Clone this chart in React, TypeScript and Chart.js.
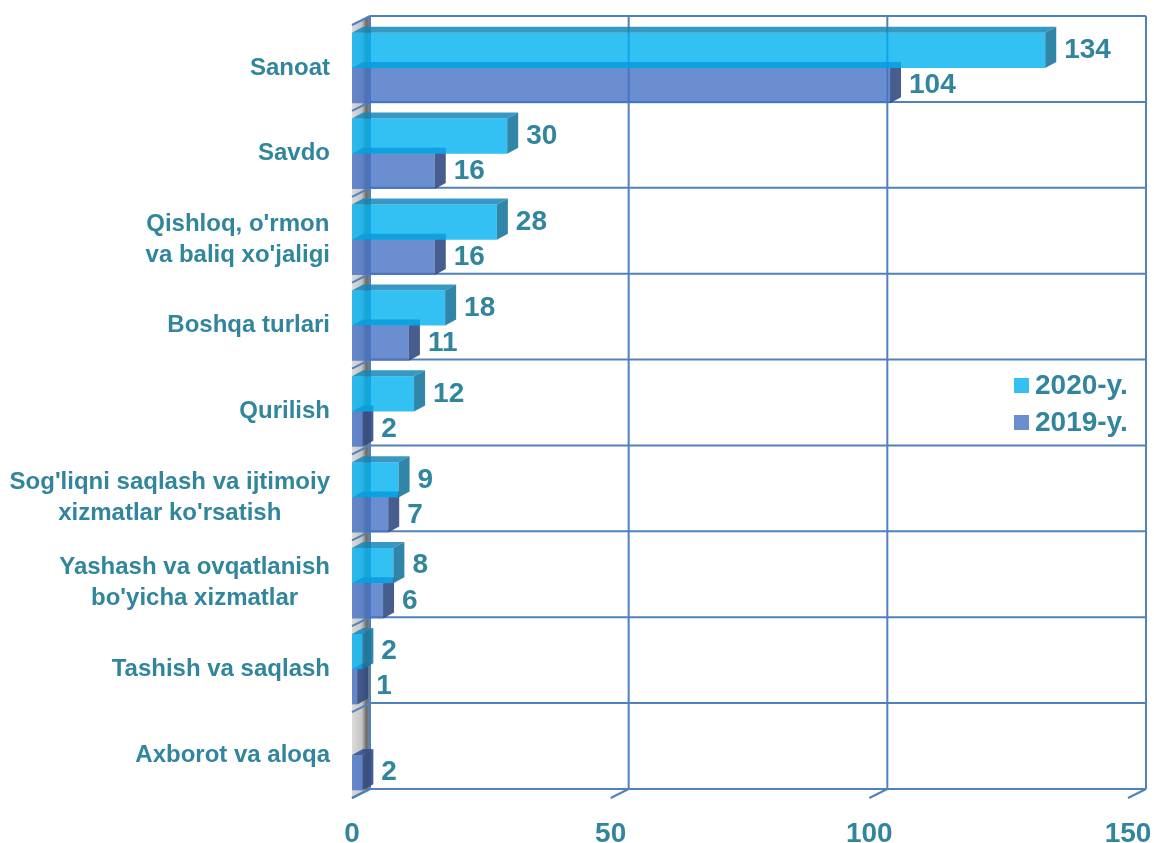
import { useEffect, useRef } from "react";
import { Chart, registerables } from "chart.js";

Chart.register(...registerables);

const categories: (string | string[])[] = [
  "Sanoat",
  "Savdo",
  ["Qishloq, o'rmon", "va baliq xo'jaligi"],
  "Boshqa turlari",
  "Qurilish",
  ["Sog'liqni saqlash va ijtimoiy", "xizmatlar ko'rsatish"],
  ["Yashash va ovqatlanish", "bo'yicha xizmatlar"],
  "Tashish va saqlash",
  "Axborot va aloqa",
];
const series2020: (number | null)[] = [134, 30, 28, 18, 12, 9, 8, 2, null];
const series2019: (number | null)[] = [104, 16, 16, 11, 2, 7, 6, 1, 2];
const seriesNames = ["2020-y.", "2019-y."];
const xTicks = [0, 50, 100, 150];

const TEXT = "#31859C";
const GRID = "#4F81BD";
const FONT = "'Liberation Sans', Arial, sans-serif";
const WALL = { dx: 18, dy: -9 };
const BAR3D = { dx: 11, dy: -6 };

const FRONT = ["rgba(0,176,240,0.8)", "rgba(70,114,196,0.8)"];
const LEGEND_COL = ["#33C0F3", "#6B8ED0"];
const TOP = ["rgba(20,135,185,0.85)", "rgba(45,75,145,0.85)"];
const SIDE = ["rgba(25,120,160,0.9)", "rgba(50,75,130,0.9)"];

const wallPlugin = {
  id: "wall3d",
  beforeDatasetsDraw(chart: any) {
    const { ctx, chartArea: a, scales } = chart;
    const x = scales.x;
    const n = categories.length;
    const band = (a.bottom - a.top) / n;
    const bl = a.left + WALL.dx;
    const bt = a.top + WALL.dy;
    const bb = a.bottom + WALL.dy;
    const br = a.right + WALL.dx;
    const bx = (px: number) => px + WALL.dx;
    ctx.save();
    const g = ctx.createLinearGradient(a.left, 0, bl, 0);
    g.addColorStop(0, "#dcdcdc");
    g.addColorStop(0.55, "#c4c4c4");
    g.addColorStop(0.8, "#6a6a6a");
    g.addColorStop(1, "#8a8a8a");
    ctx.fillStyle = g;
    ctx.beginPath();
    ctx.moveTo(a.left, a.top);
    ctx.lineTo(bl, bt);
    ctx.lineTo(bl, bb);
    ctx.lineTo(a.left, a.bottom);
    ctx.closePath();
    ctx.fill();
    ctx.strokeStyle = GRID;
    ctx.lineWidth = 2;
    for (let i = 0; i <= n; i++) {
      const by = bt + band * i;
      ctx.beginPath();
      ctx.moveTo(bl, by);
      ctx.lineTo(br, by);
      ctx.moveTo(a.left, by - WALL.dy);
      ctx.lineTo(bl, by);
      ctx.stroke();
    }
    for (const t of xTicks) {
      const px = x.getPixelForValue(t);
      ctx.beginPath();
      ctx.moveTo(bx(px), bt);
      ctx.lineTo(bx(px), bb);
      ctx.moveTo(px, a.bottom);
      ctx.lineTo(bx(px), bb);
      ctx.stroke();
    }
    ctx.restore();
  },
  afterDatasetDraw(chart: any, args: any) {
    const { ctx } = chart;
    const di = args.index;
    const meta = chart.getDatasetMeta(di);
    const data = chart.data.datasets[di].data;
    ctx.save();
    meta.data.forEach((el: any, i: number) => {
      if (data[i] == null) return;
      const { x, y, base, height } = el.getProps(["x", "y", "base", "height"], true);
      const top = y - height / 2;
      const bottom = y + height / 2;
      const { dx, dy } = BAR3D;
      ctx.fillStyle = TOP[di];
      ctx.beginPath();
      ctx.moveTo(base, top);
      ctx.lineTo(base + dx, top + dy);
      ctx.lineTo(x + dx, top + dy);
      ctx.lineTo(x, top);
      ctx.closePath();
      ctx.fill();
      ctx.fillStyle = SIDE[di];
      ctx.beginPath();
      ctx.moveTo(x, top);
      ctx.lineTo(x + dx, top + dy);
      ctx.lineTo(x + dx, bottom + dy);
      ctx.lineTo(x, bottom);
      ctx.closePath();
      ctx.fill();
    });
    ctx.restore();
  },
  afterDatasetsDraw(chart: any) {
    const { ctx, chartArea: a, scales } = chart;
    const y = scales.y;
    ctx.save();
    // value labels
    ctx.font = `bold 28px ${FONT}`;
    ctx.fillStyle = TEXT;
    ctx.textAlign = "left";
    ctx.textBaseline = "middle";
    chart.data.datasets.forEach((ds: any, di: number) => {
      const meta = chart.getDatasetMeta(di);
      meta.data.forEach((el: any, i: number) => {
        const v = ds.data[i];
        if (v == null) return;
        const { x, y: cy } = el.getProps(["x", "y"], true);
        ctx.fillText(String(v), x + BAR3D.dx + 8, cy);
      });
    });
    // category labels
    ctx.font = `bold 24px ${FONT}`;
    ctx.textAlign = "center";
    const lh = 31;
    categories.forEach((lab, i) => {
      const lines = Array.isArray(lab) ? lab : [lab];
      const w = Math.max(...lines.map((l) => ctx.measureText(l).width));
      const cx = a.left - 22 - w / 2;
      const cy = y.getPixelForValue(i);
      lines.forEach((l, j) => {
        ctx.fillText(l, cx, cy + (j - (lines.length - 1) / 2) * lh);
      });
    });
    // legend
    const lx = a.right - 114;
    const mid = (a.top + a.bottom) / 2;
    const ys = [mid - 26, mid + 11];
    ctx.font = `bold 28px ${FONT}`;
    ctx.textAlign = "left";
    seriesNames.forEach((nm, i) => {
      ctx.fillStyle = LEGEND_COL[i];
      ctx.fillRect(lx, ys[i] - 7.5, 15, 15);
      ctx.fillStyle = TEXT;
      ctx.fillText(nm, lx + 21, ys[i] + 1);
    });
    ctx.restore();
  },
};

export default function App() {
  const ref = useRef<HTMLCanvasElement | null>(null);
  useEffect(() => {
    document.body.style.margin = "0";
    if (!ref.current) return;
    const chart = new Chart(ref.current, {
      type: "bar",
      data: {
        labels: categories as any,
        datasets: [
          {
            label: seriesNames[0],
            data: series2020,
            backgroundColor: FRONT[0],
            borderWidth: 0,
            barPercentage: 1,
            categoryPercentage: 0.82,
          },
          {
            label: seriesNames[1],
            data: series2019,
            backgroundColor: FRONT[1],
            borderWidth: 0,
            barPercentage: 1,
            categoryPercentage: 0.82,
          },
        ],
      },
      options: {
        indexAxis: "y",
        animation: false,
        responsive: true,
        maintainAspectRatio: false,
        layout: { padding: { left: 352, right: 26, top: 25, bottom: 0 } },
        plugins: { legend: { display: false }, tooltip: { enabled: false } },
        scales: {
          x: {
            type: "linear",
            min: 0,
            max: 150,
            afterBuildTicks: (s: any) => {
              s.ticks = xTicks.map((v) => ({ value: v }));
            },
            afterFit: (s: any) => {
              s.height = 45;
              s.paddingLeft = 0;
              s.paddingRight = 0;
            },
            grid: { display: false, drawTicks: false },
            border: { display: false },
            ticks: {
              padding: 22,
              color: TEXT,
              font: { family: FONT, size: 28, weight: "bold", lineHeight: 1 },
            },
          },
          y: {
            type: "category",
            display: false,
          },
        },
      },
      plugins: [wallPlugin],
    });
    return () => chart.destroy();
  }, []);
  return (
    <div style={{ width: 1154, height: 843, position: "relative" }}>
      <canvas ref={ref} />
    </div>
  );
}
